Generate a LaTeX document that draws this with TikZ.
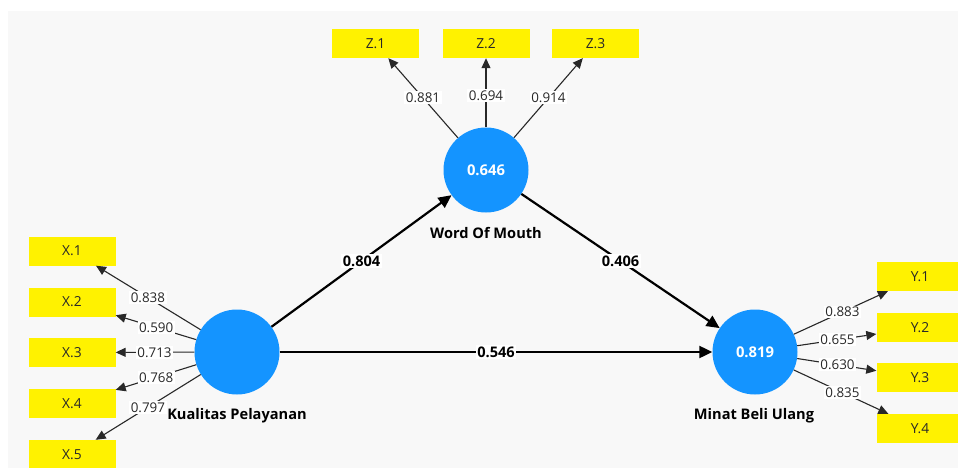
\documentclass[tikz,border=0pt]{standalone}
\usepackage{fontspec}
\setmainfont{Open Sans}
\usetikzlibrary{arrows.meta,calc}
\definecolor{lvblue}{RGB}{20,148,255}
\definecolor{canvas}{RGB}{248,248,248}
\definecolor{ink}{RGB}{40,40,40}

\begin{document}
\begin{tikzpicture}[x=1pt,y=-1pt,
  latent/.style={circle, fill=lvblue, minimum size=85pt, inner sep=0pt,
    text=white, font=\bfseries\fontsize{14.8}{17}\selectfont},
  lvname/.style={inner sep=0pt, font=\bfseries\fontsize{14.6}{17}\selectfont},
  indicator/.style={rectangle, fill=yellow, minimum width=87pt, minimum height=29pt,
    inner sep=0pt, text=ink, font=\fontsize{13.8}{16}\selectfont},
  loading/.style={draw=ink, line width=1.1pt, -{Triangle[length=10pt,width=9pt]}},
  structural/.style={draw=black, line width=2.2pt, -{Triangle[length=13pt,width=12pt]}},
  ldlabel/.style={fill=white, inner sep=1.5pt, text=ink, font=\fontsize{13.4}{16}\selectfont},
  pclabel/.style={fill=white, inner sep=1.5pt, font=\bfseries\fontsize{14.6}{17}\selectfont}]

% canvas
\useasboundingbox (0,0) rectangle (958,468);
\fill[white] (0,0) rectangle (958,468);
\fill[canvas] (8,11) rectangle (958,468);
\clip (0,0) rectangle (958,468);

% latent variables
\node[latent] (KP) at (237,352) {};
\node[latent] (WOM) at (486,170) {0.646};
\node[latent] (MBU) at (755,352) {0.819};

\node[lvname] (KPname) at (237,416) {Kualitas Pelayanan};
\node[lvname] (WOMname) at (486,233) {Word Of Mouth};
\node[lvname] (MBUname) at (754,416) {Minat Beli Ulang};

% indicators
\node[indicator] (Z1) at (375.5,43.5) {Z.1};
\node[indicator] (Z2) at (486,43.5) {Z.2};
\node[indicator] (Z3) at (595.5,43.5) {Z.3};

\node[indicator] (X1) at (72,251) {X.1};
\node[indicator] (X2) at (72,302) {X.2};
\node[indicator] (X3) at (72,352.5) {X.3};
\node[indicator] (X4) at (72,403.5) {X.4};
\node[indicator] (X5) at (72,454.5) {X.5};

\node[indicator] (Y1) at (920,276.5) {Y.1};
\node[indicator] (Y2) at (920,327.5) {Y.2};
\node[indicator] (Y3) at (920,377.5) {Y.3};
\node[indicator] (Y4) at (920,428.5) {Y.4};

% outer loadings
\draw[loading] (WOM) -- (Z1);
\draw[loading] (WOM) -- (Z2);
\draw[loading] (WOM) -- (Z3);
\foreach \i in {1,...,5} { \draw[loading] (KP) -- (X\i); }
\foreach \i in {1,...,4} { \draw[loading] (MBU) -- (Y\i); }

\node[ldlabel] (lZ1) at ($(WOM)!0.57!(Z1)$) {0.881};
\node[ldlabel] (lZ2) at ($(WOM)!0.59!(Z2)$) {0.694};
\node[ldlabel] (lZ3) at ($(WOM)!0.57!(Z3)$) {0.914};

\node[ldlabel] (lX1) at ($(KP)!0.54!(X1)$) {0.838};
\node[ldlabel] (lX2) at ($(KP)!0.49!(X2)$) {0.590};
\node[ldlabel] (lX3) at ($(KP)!0.50!(X3)$) {0.713};
\node[ldlabel] (lX4) at ($(KP)!0.49!(X4)$) {0.768};
\node[ldlabel] (lX5) at ($(KP)!0.54!(X5)$) {0.797};

\node[ldlabel] (lY1) at ($(MBU)!0.53!(Y1)$) {0.883};
\node[ldlabel] (lY2) at ($(MBU)!0.50!(Y2)$) {0.655};
\node[ldlabel] (lY3) at ($(MBU)!0.50!(Y3)$) {0.630};
\node[ldlabel] (lY4) at ($(MBU)!0.53!(Y4)$) {0.835};

% inner model
\draw[structural] (KP) -- (WOM) node[pclabel, midway] (pKW) {0.804};
\draw[structural] (WOM) -- (MBU) node[pclabel, midway] (pWM) {0.406};
\draw[structural] (KP) -- (MBU) node[pclabel, midway] (pKM) {0.546};
\end{tikzpicture}
\end{document}
